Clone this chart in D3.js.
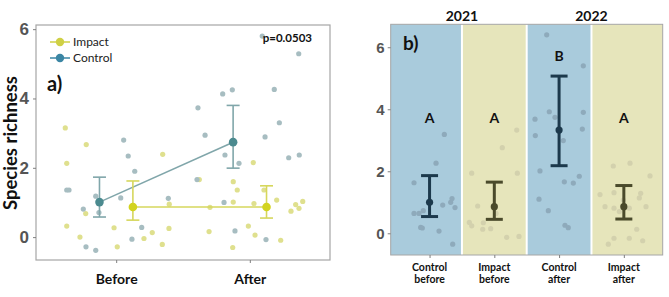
<!DOCTYPE html>
<html>
<head>
<meta charset="utf-8">
<script src="https://cdn.jsdelivr.net/npm/d3@7"></script>
<style>
  body { margin: 0; background: #fff; }
  svg { display: block; }
</style>
</head>
<body>
<script>
// ---------------- data: panel a ----------------
var periods = ["Before", "After"];
var yTicksA = [0, 2, 4, 6];

// mean +- error, per period
var controlMean = [1.01, 2.74];
var controlLo   = [0.58, 1.99];
var controlHi   = [1.73, 3.80];
var impactMean  = [0.87, 0.87];
var impactLo    = [0.49, 0.55];
var impactHi    = [1.62, 1.48];

// jittered raw points [x position on axis, richness]
var impactPts = [
  [0.619,3.15],[0.776,2.67],[0.630,2.13],[0.772,0.68],[0.630,0.32],[0.729,0.00],
  [0.984,0.27],[1.008,-0.28],[1.208,-0.04],[1.270,0.13],[1.348,2.39],[1.397,0.95],
  [1.395,0.25],[1.345,-0.21],[1.622,1.66],[1.702,0.86],[1.695,0.16],[1.876,1.60],
  [1.906,1.36],[1.876,1.01],[1.872,-0.30],[2.026,2.15],[2.031,0.97],[1.989,0.32],
  [2.039,0.06],[2.106,1.36],[2.201,1.07],[2.231,-0.09],[2.308,0.75],[2.343,0.94],
  [2.368,0.83],[2.396,1.03]
];
var controlPts = [
  [0.630,1.36],[0.647,1.36],[0.754,0.81],[0.774,-0.28],[0.847,-0.38],[0.847,1.18],
  [0.871,0.71],[1.056,2.80],[1.090,2.34],[1.139,1.90],[1.034,1.13],[1.191,0.28],
  [1.118,-0.06],[1.390,1.12],[1.612,3.73],[1.665,2.94],[1.605,1.66],[1.797,4.13],
  [1.869,4.25],[1.814,2.37],[1.919,2.13],[1.807,1.00],[1.889,0.18],[2.093,5.80],
  [2.366,5.29],[2.183,4.26],[2.221,3.30],[2.114,2.89],[2.291,2.29],[2.370,2.37],
  [2.121,-0.07]
];

// ---------------- data: panel b ----------------
var groups = [["Control","before"],["Impact","before"],["Control","after"],["Impact","after"]];
var years = ["2021", "2022"];
var yTicksB = [0, 2, 4, 6];
var groupMean = [1.00, 0.86, 3.33, 0.86];
var groupLo   = [0.54, 0.45, 2.18, 0.46];
var groupHi   = [1.86, 1.65, 5.07, 1.54];
var letters   = ["A", "A", "B", "A"];
var letterY   = [3.72, 3.72, 5.70, 3.72];

var rawB = [
  [0.760,1.63],[1.228,3.19],[1.100,2.26],[0.760,0.64],[0.837,0.64],[0.903,0.73],
  [0.863,0.19],[0.888,0.17],[1.146,0.07],[1.203,0.91],[1.326,1.00],[1.347,1.12],
  [1.393,0.83],[1.357,-0.35],
  [1.651,1.94],[2.346,3.33],[2.123,2.76],[2.355,1.94],[1.743,0.88],[1.614,0.35],
  [1.651,0.24],[1.830,0.34],[1.821,0.13],[1.944,0.15],[2.191,-0.13],[2.381,-0.10],
  [2.026,0.64],
  [2.809,6.40],[3.374,5.40],[2.628,3.68],[2.849,3.92],[2.937,3.74],[2.633,3.15],
  [3.065,2.99],[3.374,3.90],[3.359,3.36],[2.705,2.01],[3.081,1.66],[3.220,1.62],
  [3.312,1.84],[2.690,1.10],[2.834,0.73],[3.091,0.26],[3.142,0.18],
  [3.837,2.17],[4.095,2.26],[4.404,1.85],[3.632,1.25],[3.848,1.31],[4.260,1.29],
  [4.239,1.14],[3.709,0.86],[3.848,0.81],[3.930,0.70],[4.084,0.81],[4.342,0.86],
  [4.199,0.13],[3.848,-0.16],[4.084,-0.16],[4.291,-0.24],[3.760,-0.35],[3.992,1.07]
];

// ---------------- svg ----------------
var svg = d3.select("body").append("svg")
    .attr("width", 669)
    .attr("height", 297);

var numFont = "'Liberation Sans', Arial, sans-serif";
var txtFont = "Lato, 'Open Sans', sans-serif";

//******************************************************************************
//****************************** Panel a ***************************************
var xa = d3.scaleLinear().domain([0.4, 2.6]).range([36, 330]);
var ya = d3.scaleLinear().domain([-0.66, 6.12]).range([260, 25]);

var gA = svg.append("g");

// jitter points
gA.selectAll("circle.imp")
  .data(impactPts)
  .enter().append("circle")
    .attr("class", "imp")
    .attr("cx", function(d){ return xa(d[0]); })
    .attr("cy", function(d){ return ya(d[1]); })
    .attr("r", 2.6)
    .attr("fill", "#dfe08e");

gA.selectAll("circle.ctl")
  .data(controlPts)
  .enter().append("circle")
    .attr("class", "ctl")
    .attr("cx", function(d){ return xa(d[0]); })
    .attr("cy", function(d){ return ya(d[1]); })
    .attr("r", 2.6)
    .attr("fill", "#a7bdc1");

// frame
gA.append("rect")
  .attr("x", 36).attr("y", 25)
  .attr("width", 294).attr("height", 235)
  .attr("fill", "none")
  .attr("stroke", "#a6a6a6")
  .attr("stroke-width", 1.2);

// axes
var axA = gA.append("g")
  .attr("transform", "translate(36,0)")
  .call(d3.axisLeft(ya).tickValues(yTicksA).tickSize(3).tickFormat(d3.format("d")));
axA.select(".domain").remove();
axA.selectAll("line").attr("stroke", "#7f7f7f");
axA.selectAll("text")
  .attr("font-family", numFont)
  .attr("font-weight", "bold")
  .attr("font-size", "17px")
  .attr("fill", "#555555")
  .attr("dx", "-1");

var axAx = gA.append("g")
  .attr("transform", "translate(0,260)")
  .call(d3.axisBottom(xa).tickValues([1, 2]).tickSize(3)
        .tickFormat(function(d){ return periods[d-1]; }));
axAx.select(".domain").remove();
axAx.selectAll("line").attr("stroke", "#7f7f7f");
axAx.selectAll("text")
  .attr("font-family", txtFont)
  .attr("font-weight", "bold")
  .attr("font-size", "14px")
  .attr("fill", "#111")
  .attr("dy", "1.25em");

// mean lines, error bars, means
function drawSeries(g, mean, lo, hi, off, lineCol, meanCol) {
  var pts = mean.map(function(m, i){ return [i + 1 + off, m, lo[i], hi[i]]; });
  g.append("path")
    .datum(pts)
    .attr("d", d3.line().x(function(d){ return xa(d[0]); }).y(function(d){ return ya(d[1]); }))
    .attr("fill", "none")
    .attr("stroke", lineCol)
    .attr("stroke-width", 1.6);
  var eb = g.selectAll(null).data(pts).enter().append("g");
  eb.append("line")
    .attr("x1", function(d){ return xa(d[0]); })
    .attr("x2", function(d){ return xa(d[0]); })
    .attr("y1", function(d){ return ya(d[2]); })
    .attr("y2", function(d){ return ya(d[3]); })
    .attr("stroke", lineCol).attr("stroke-width", 1.6);
  [2, 3].forEach(function(k){
    eb.append("line")
      .attr("x1", function(d){ return xa(d[0]) - 6.5; })
      .attr("x2", function(d){ return xa(d[0]) + 6.5; })
      .attr("y1", function(d){ return ya(d[k]); })
      .attr("y2", function(d){ return ya(d[k]); })
      .attr("stroke", lineCol).attr("stroke-width", 1.6);
  });
  eb.append("circle")
    .attr("cx", function(d){ return xa(d[0]); })
    .attr("cy", function(d){ return ya(d[1]); })
    .attr("r", 4.3)
    .attr("fill", meanCol);
}
drawSeries(gA, controlMean, controlLo, controlHi, -0.125, "#80a6aa", "#4b8a8f");
drawSeries(gA, impactMean, impactLo, impactHi, 0.125, "#d6d75c", "#d2d31f");

// legend
var legend = gA.selectAll("g.leg")
  .data([["Impact", "#cfd045"], ["Control", "#3b86a4"]])
  .enter().append("g")
    .attr("class", "leg")
    .attr("transform", function(d, i){ return "translate(50," + (42 + i*16) + ")"; });
legend.append("line")
  .attr("x1", 0).attr("x2", 20)
  .attr("stroke", function(d){ return d[1]; })
  .attr("stroke-width", 1.5);
legend.append("circle")
  .attr("cx", 10).attr("r", 4.2)
  .attr("fill", function(d){ return d[1]; });
legend.append("text")
  .attr("x", 23).attr("dy", "0.35em")
  .attr("font-family", txtFont)
  .attr("font-size", "12px")
  .attr("fill", "#222")
  .text(function(d){ return d[0]; });

gA.append("text")
  .attr("x", 47).attr("y", 91)
  .attr("font-family", txtFont).attr("font-weight", "bold")
  .attr("font-size", "20px").attr("fill", "#111")
  .text("a)");

gA.append("text")
  .attr("x", 312).attr("y", 42)
  .attr("text-anchor", "end")
  .attr("font-family", txtFont).attr("font-weight", "bold")
  .attr("font-size", "11.5px").attr("fill", "#111")
  .text("p=0.0503");

gA.append("text")
  .attr("transform", "translate(17,143) rotate(-90)")
  .attr("text-anchor", "middle")
  .attr("font-family", txtFont).attr("font-weight", "bold")
  .attr("font-size", "18.5px").attr("fill", "#111")
  .text("Species richness");

//******************************************************************************
//****************************** Panel b ***************************************
var xb = d3.scaleLinear().domain([0.4, 4.6]).range([390.7, 662.7]);
var yb = d3.scaleLinear().domain([-0.70, 6.74]).range([255, 24.3]);
var bandCol = ["#a9cbdc", "#e6e5bb"];
var ptCol = ["#8eaabb", "#d3d1ad"];
var barCol = ["#1c394c", "#4a4a2b"];

var gB = svg.append("g");

// coloured bands
gB.selectAll("rect.band")
  .data(groups)
  .enter().append("rect")
    .attr("class", "band")
    .attr("x", function(d, i){ return i === 0 ? xb(0.4) : xb(i + 0.5); })
    .attr("width", function(d, i){
      var a = i === 0 ? xb(0.4) : xb(i + 0.5);
      var b = i === 3 ? xb(4.6) : xb(i + 1.5);
      return b - a;
    })
    .attr("y", yb(6.74))
    .attr("height", yb(-0.70) - yb(6.74))
    .attr("fill", function(d, i){ return bandCol[i % 2]; });

// white separators
gB.selectAll("line.sep")
  .data([1.5, 2.5, 3.5])
  .enter().append("line")
    .attr("x1", function(d){ return xb(d); })
    .attr("x2", function(d){ return xb(d); })
    .attr("y1", yb(6.74)).attr("y2", yb(-0.70))
    .attr("stroke", "#fff").attr("stroke-width", 2);

// raw points
gB.selectAll("circle.raw")
  .data(rawB)
  .enter().append("circle")
    .attr("class", "raw")
    .attr("cx", function(d){ return xb(d[0]); })
    .attr("cy", function(d){ return yb(d[1]); })
    .attr("r", 2.6)
    .attr("fill", function(d){ return ptCol[(Math.round(d[0]) - 1) % 2]; });

// frame
gB.append("rect")
  .attr("x", xb(0.4)).attr("y", yb(6.74))
  .attr("width", xb(4.6) - xb(0.4))
  .attr("height", yb(-0.70) - yb(6.74))
  .attr("fill", "none")
  .attr("stroke", "#a6a6a6").attr("stroke-width", 1);

// error bars
var bars = gB.selectAll("g.bar")
  .data(groupMean)
  .enter().append("g")
    .attr("class", "bar");
bars.append("line")
  .attr("x1", function(d, i){ return xb(i + 1); })
  .attr("x2", function(d, i){ return xb(i + 1); })
  .attr("y1", function(d, i){ return yb(groupLo[i]); })
  .attr("y2", function(d, i){ return yb(groupHi[i]); })
  .attr("stroke", function(d, i){ return barCol[i % 2]; })
  .attr("stroke-width", 3);
[groupLo, groupHi].forEach(function(arr){
  bars.append("line")
    .attr("x1", function(d, i){ return xb(i + 1) - 8.5; })
    .attr("x2", function(d, i){ return xb(i + 1) + 8.5; })
    .attr("y1", function(d, i){ return yb(arr[i]); })
    .attr("y2", function(d, i){ return yb(arr[i]); })
    .attr("stroke", function(d, i){ return barCol[i % 2]; })
    .attr("stroke-width", 3);
});
bars.append("circle")
  .attr("cx", function(d, i){ return xb(i + 1); })
  .attr("cy", function(d){ return yb(d); })
  .attr("r", 3.6)
  .attr("fill", function(d, i){ return barCol[i % 2]; });

// significance letters
gB.selectAll("text.letter")
  .data(letters)
  .enter().append("text")
    .attr("class", "letter")
    .attr("x", function(d, i){ return xb(i + 1); })
    .attr("y", function(d, i){ return yb(letterY[i]); })
    .attr("dy", "0.35em")
    .attr("text-anchor", "middle")
    .attr("font-family", txtFont).attr("font-weight", "bold")
    .attr("font-size", "14px").attr("fill", "#111")
    .text(function(d){ return d; });

// y axis
var axB = gB.append("g")
  .attr("transform", "translate(" + xb(0.4) + ",0)")
  .call(d3.axisLeft(yb).tickValues(yTicksB).tickSize(3).tickFormat(d3.format("d")));
axB.select(".domain").remove();
axB.selectAll("line").attr("stroke", "#7f7f7f");
axB.selectAll("text")
  .attr("font-family", numFont).attr("font-weight", "bold")
  .attr("font-size", "15px").attr("fill", "#555555");

// x axis
var axBx = gB.append("g")
  .attr("transform", "translate(0," + yb(-0.70) + ")")
  .call(d3.axisBottom(xb).tickValues([1, 2, 3, 4]).tickSize(3).tickFormat(""));
axBx.select(".domain").remove();
axBx.selectAll("line").attr("stroke", "#7f7f7f");

var xl = gB.selectAll("text.xl")
  .data(groups)
  .enter().append("text")
    .attr("class", "xl")
    .attr("x", function(d, i){ return xb(i + 1); })
    .attr("y", 271)
    .attr("text-anchor", "middle")
    .attr("font-family", txtFont).attr("font-weight", "bold")
    .attr("font-size", "10.5px").attr("fill", "#111");
xl.append("tspan")
  .attr("x", function(d, i){ return xb(i + 1); })
  .text(function(d){ return d[0]; });
xl.append("tspan")
  .attr("x", function(d, i){ return xb(i + 1); })
  .attr("dy", "1.15em")
  .text(function(d){ return d[1]; });

// years
gB.selectAll("text.year")
  .data(years)
  .enter().append("text")
    .attr("class", "year")
    .attr("x", function(d, i){ return xb(1.5 + 2 * i); })
    .attr("y", 21)
    .attr("text-anchor", "middle")
    .attr("font-family", txtFont).attr("font-weight", "bold")
    .attr("font-size", "14px").attr("fill", "#111")
    .text(function(d){ return d; });

gB.append("text")
  .attr("x", 403).attr("y", 50)
  .attr("font-family", txtFont).attr("font-weight", "bold")
  .attr("font-size", "19px").attr("fill", "#111")
  .text("b)");
</script>
</body>
</html>
